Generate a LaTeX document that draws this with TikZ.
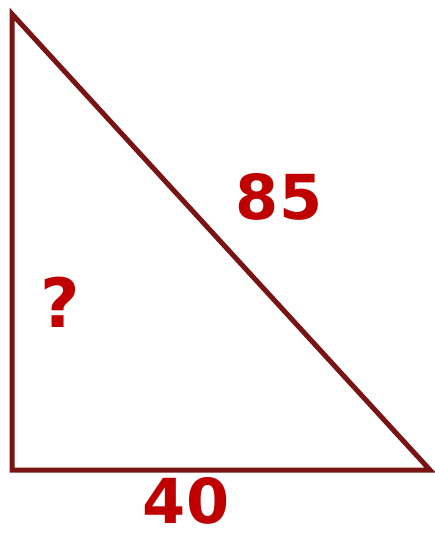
\documentclass[tikz,border=0pt]{standalone}
\usepackage{fontspec}
\setmainfont{DejaVu Sans}
\definecolor{edgered}{HTML}{7A1414}
\definecolor{labelred}{HTML}{C00000}
\begin{document}
\begin{tikzpicture}[x=1pt,y=-1pt,
  side/.style={draw=edgered, line width=5pt, line join=miter},
  lbl/.style={text=labelred, font=\fontsize{62}{62}\selectfont\bfseries, inner sep=0pt}]
\useasboundingbox (0,0) rectangle (435,540);
\coordinate (top) at (12,14);
\coordinate (rgt) at (12,470);
\coordinate (end) at (430,470);
\draw[side] (top) -- (rgt) -- (end) -- cycle;
\node[lbl] (hyp) at (279,197) {85};
\node[lbl, font=\fontsize{68}{68}\selectfont\bfseries] (leg) at (60,302) {?};
\node[lbl, anchor=base, text depth=0pt] (base) at (186,523) {40};
\end{tikzpicture}
\end{document}
